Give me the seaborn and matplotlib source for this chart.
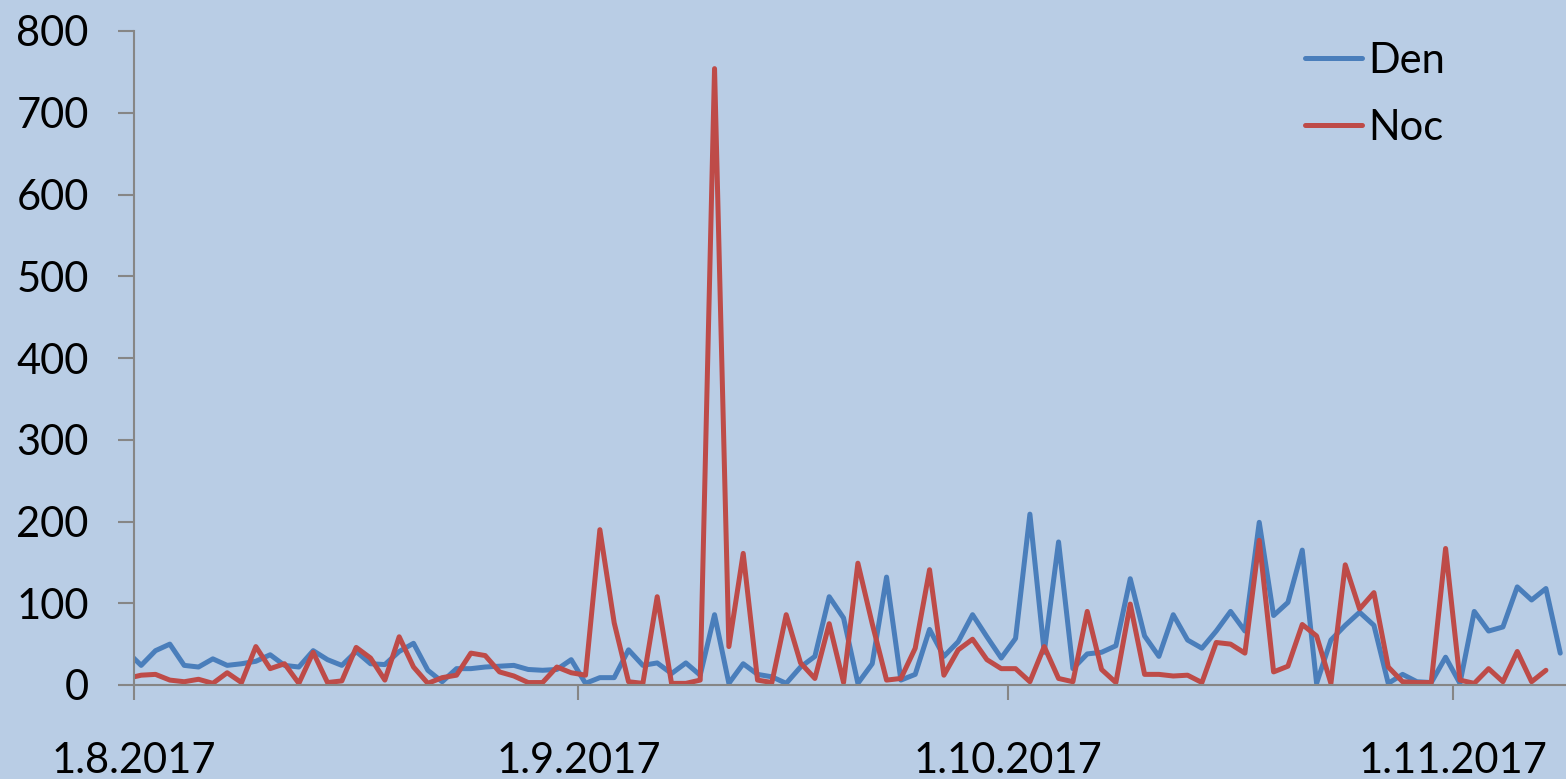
import pandas as pd
import matplotlib
matplotlib.use('Agg')
import matplotlib.pyplot as plt
import seaborn as sns

# daily values, 31.7.2017 .. 8.11.2017 (first point is cut off by the axis)
start_date = '2017-07-31'
den = [41,
       24, 42, 50, 24, 22, 32, 24, 26, 29, 37, 24, 22, 42, 31, 24, 41, 26, 25, 41, 51,
       18, 4, 20, 20, 22, 23, 24, 19, 18, 19, 31,
       2, 9, 9, 43, 24, 27, 14, 27, 12, 86, 2, 26, 13, 10, 2, 22, 35, 108, 82, 2,
       26, 132, 6, 13, 68, 35, 53, 86, 59, 33,
       57, 209, 40, 175, 20, 38, 40, 48, 130, 60, 35, 86, 55, 45, 66, 90, 66, 199, 85, 101,
       165, 2, 55, 73, 89, 73, 2, 13, 4, 3, 34,
       2, 90, 66, 71, 120, 104, 118, 39]
noc = [8,
       12, 13, 6, 4, 7, 2, 15, 3, 47, 20, 26, 2, 40, 3, 5, 46, 33, 6, 59, 22,
       2, 9, 12, 39, 36, 16, 11, 3, 3, 22, 15,
       12, 190, 76, 4, 2, 108, 2, 2, 6, 754, 47, 161, 6, 3, 86, 27, 8, 75, 3,
       149, 75, 6, 8, 45, 141, 12, 43, 56, 31, 20,
       20, 4, 47, 8, 4, 90, 19, 3, 99, 13, 13, 11, 12, 3, 52, 50, 39, 177, 16, 23,
       74, 60, 2, 147, 93, 113, 22, 4, 3, 3, 167,
       6, 2, 20, 4, 41, 4, 18]
series_names = ['Den', 'Noc']
tick_dates = ['2017-08-01', '2017-09-01', '2017-10-01', '2017-11-01']
tick_labels = ['1.8.2017', '1.9.2017', '1.10.2017', '1.11.2017']

# points sit in the middle of each day
days_den = pd.date_range(start_date, periods=len(den)) + pd.Timedelta(hours=12)
days_noc = pd.date_range(start_date, periods=len(noc)) + pd.Timedelta(hours=12)
df = pd.concat([
    pd.DataFrame({'datum': days_den, 'hodnota': den, 'serie': series_names[0]}),
    pd.DataFrame({'datum': days_noc, 'hodnota': noc, 'serie': series_names[1]}),
])

bg = '#B9CDE5'
sns.set_style('white')
plt.rcParams['font.family'] = ['Lato', 'DejaVu Sans']
plt.rcParams['text.color'] = 'black'

fig = plt.figure(figsize=(15.66, 7.79), dpi=100, facecolor=bg)
ax = fig.add_axes([134 / 1566, 94 / 779, 1432 / 1566, 654 / 779])
ax.set_facecolor(bg)

sns.lineplot(data=df, x='datum', y='hodnota', hue='serie', ax=ax,
             palette=['#4A7EBB', '#BE4B48'], linewidth=3.6, legend=True)

ax.set_xlim(pd.Timestamp('2017-08-01'), pd.Timestamp('2017-08-01') + pd.Timedelta(days=99.9))
ax.set_ylim(0, 800)
ax.set_yticks(range(0, 801, 100))
ax.set_xticks(pd.to_datetime(tick_dates))
ax.set_xticklabels(tick_labels)
ax.set_xlabel('')
ax.set_ylabel('')

for side in ['top', 'right']:
    ax.spines[side].set_visible(False)
for side in ['left', 'bottom']:
    ax.spines[side].set_color('#868686')
    ax.spines[side].set_linewidth(1.5)

ax.tick_params(axis='y', left=True, direction='out', length=11.5, width=1.5, color='#868686',
               labelsize=30, labelcolor='black', pad=21)
ax.tick_params(axis='x', bottom=True, direction='out', length=11, width=1.5, color='#868686',
               labelsize=30, labelcolor='black', pad=30)

leg = ax.legend(loc='upper left', bbox_to_anchor=(1305 / 1566, 0.946), bbox_transform=fig.transFigure,
                frameon=False, fontsize=30, handlelength=1.37, handletextpad=0.15,
                labelspacing=0.69, borderpad=0, borderaxespad=0)
for t in leg.get_texts():
    t.set_color('black')

fig.savefig('out.png', dpi=100, facecolor=bg)
